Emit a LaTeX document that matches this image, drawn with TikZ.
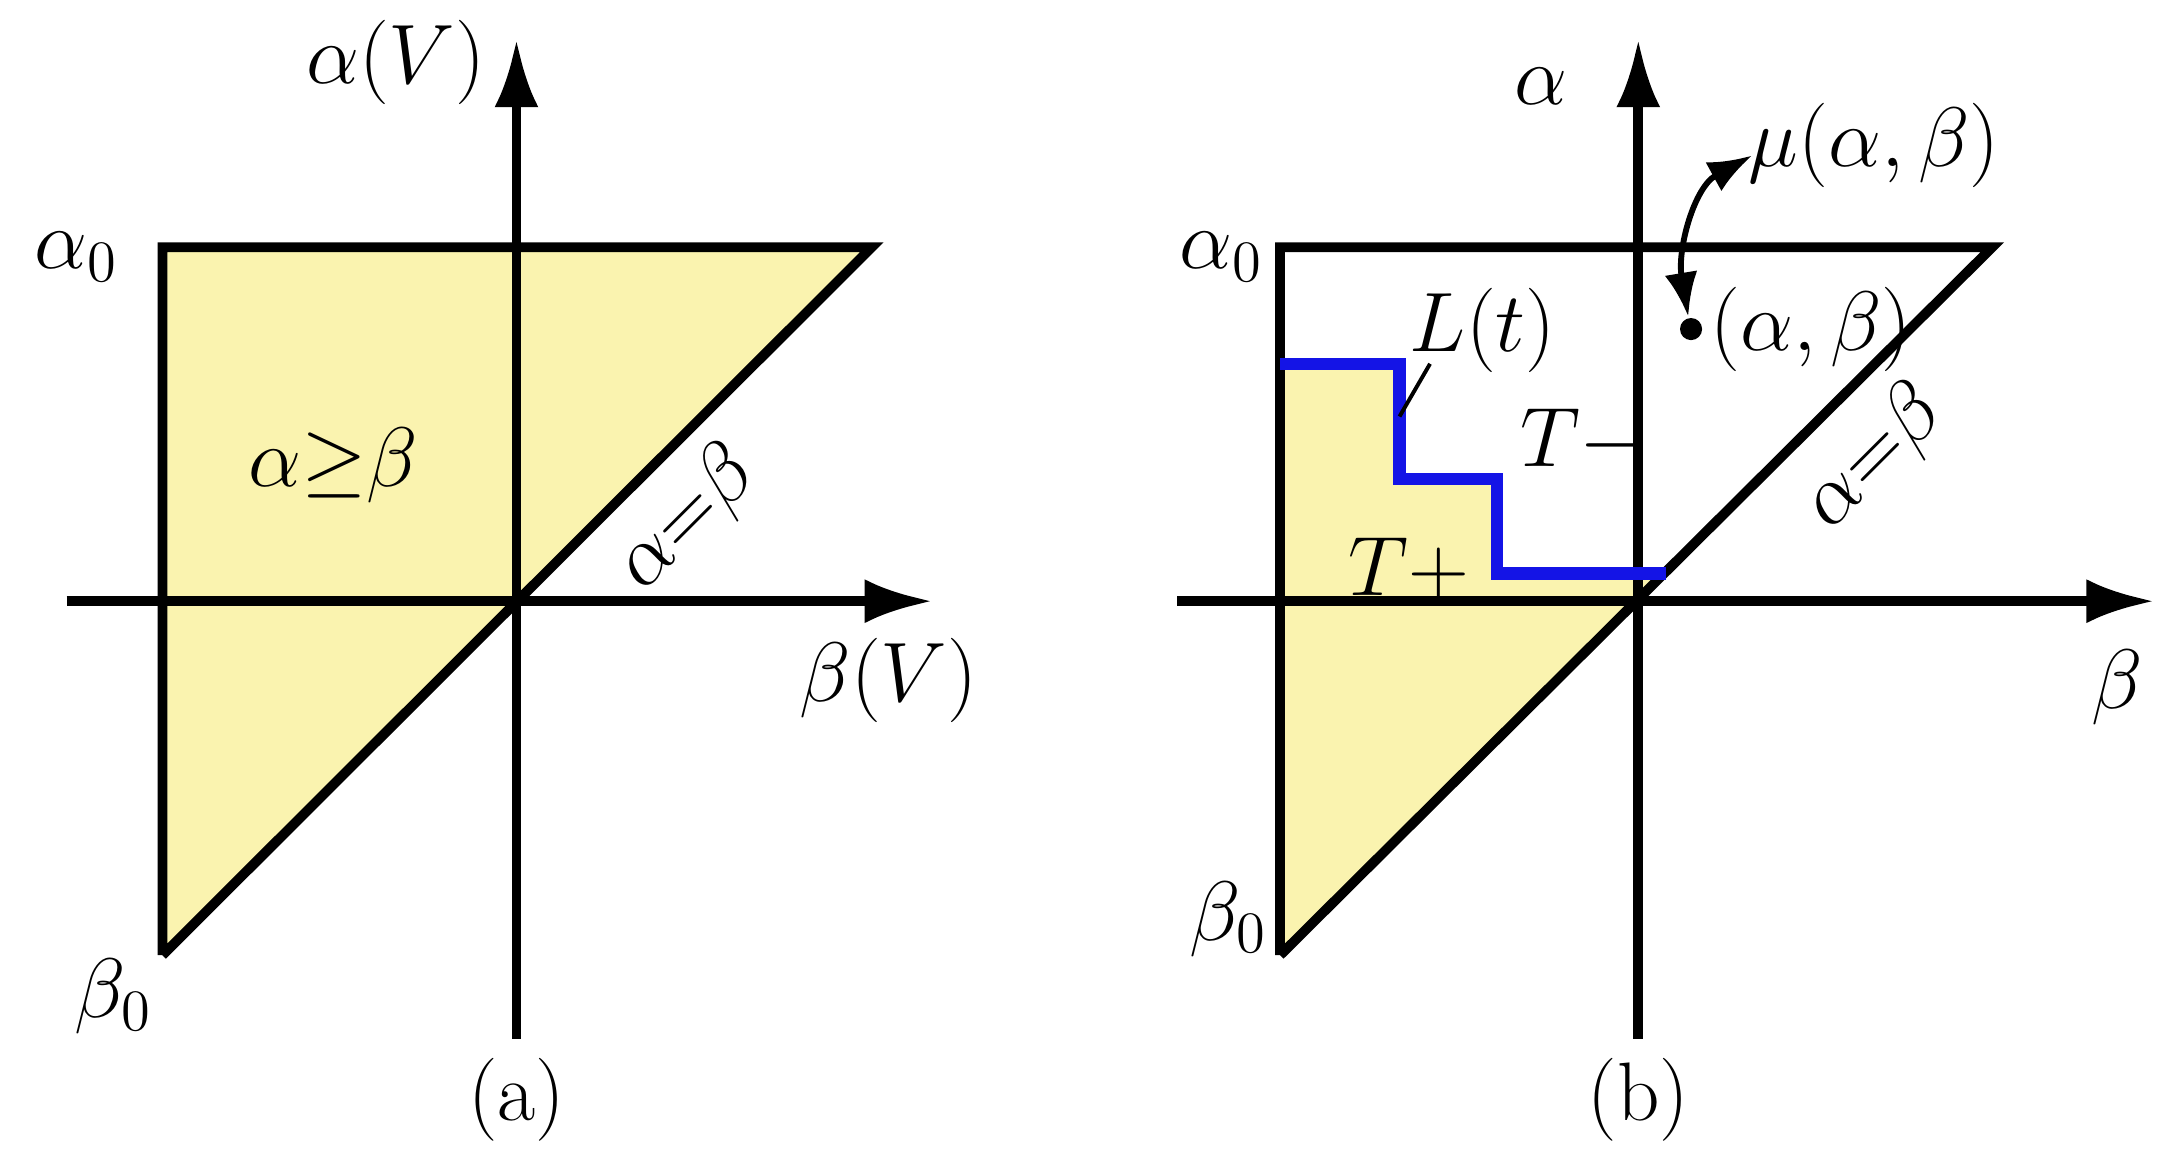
\documentclass[tikz,border=0pt]{standalone}
\usepackage{amssymb}
\usetikzlibrary{arrows.meta,positioning}
\definecolor{fillyel}{RGB}{250,243,175}
\definecolor{stepblue}{RGB}{20,20,230}
\tikzset{
  axis/.style={line width=2pt,-{Latex[length=14pt,width=9pt]}},
  edge/.style={line width=2pt},
  lbl/.style={font=\fontsize{17}{20}\selectfont},
}
\begin{document}
\begin{tikzpicture}[x=0.01cm,y=-0.01cm]
\useasboundingbox (0,0) rectangle (1568,835);
%panel a
\fill[fillyel] (117,178) -- (628,178) -- (117,688) -- cycle;
\draw[edge] (117,688) -- (117,178) -- (628,178) -- (117,688);
\coordinate (ax1) at (48,433); \coordinate (ax2) at (672,433);
\coordinate (ay1) at (372,748); \coordinate (ay2) at (372,28);
\draw[axis] (ax1) -- (ax2);
\draw[axis] (ay1) -- (ay2);
\node[lbl] (aal) at (285,45) {$\alpha(V)$};
\node[lbl] (abe) at (640,490) {$\beta(V)$};
\node[lbl] (aa0) at (55,185) {$\alpha_0$};
\node[lbl] (ab0) at (82,718) {$\beta_0$};
\node[lbl] (ageq) at (240,335) {$\alpha{\geq}\beta$};
\node[lbl,rotate=45] (aeq) at (495,374) {$\alpha{=}\beta$};
\node[lbl] (acap) at (372,792) {(a)};
%panel b
\fill[fillyel] (922,262) -- (1008,262) -- (1008,345) -- (1078,345) -- (1078,413) -- (1200,413) -- (922,688) -- cycle;
\draw[edge] (922,688) -- (922,178) -- (1435,178) -- (922,688);
\coordinate (bx1) at (848,433); \coordinate (bx2) at (1552,433);
\coordinate (by1) at (1180,748); \coordinate (by2) at (1180,28);
\draw[axis] (bx1) -- (bx2);
\draw[axis] (by1) -- (by2);
\draw[stepblue,line width=2.5pt] (922,262) -- (1008,262) -- (1008,345) -- (1078,345) -- (1078,413) -- (1200,413);
\node[lbl] (bal) at (1110,62) {$\alpha$};
\node[lbl] (bbe) at (1525,495) {$\beta$};
\node[lbl] (ba0) at (880,185) {$\alpha_0$};
\node[lbl] (bb0) at (885,662) {$\beta_0$};
\node[lbl] (blt) at (1068,238) {$L(t)$};
\coordinate (blte) at (1008,300);
\draw[line width=0.8pt] (1030,262) -- (blte);
\node[lbl] (btm) at (1140,318) {$T-$};
\node[lbl] (btp) at (1015,410) {$T+$};
\node[circle,fill,inner sep=1.6pt] (bpt) at (1218,237) {};
\node[lbl,right=-2pt of bpt] (bptl) {$(\alpha,\beta)$};
\node[lbl] (bmu) at (1350,105) {$\mu(\alpha,\beta)$};
\draw[line width=1.2pt,{Latex[length=9pt]}-{Latex[length=9pt]}] (1262,112) .. controls (1220,135) and (1208,180) .. (1216,228);
\node[lbl,rotate=45] (beq) at (1350,330) {$\alpha{=}\beta$};
\node[lbl] (bcap) at (1180,792) {(b)};
\end{tikzpicture}
\end{document}
